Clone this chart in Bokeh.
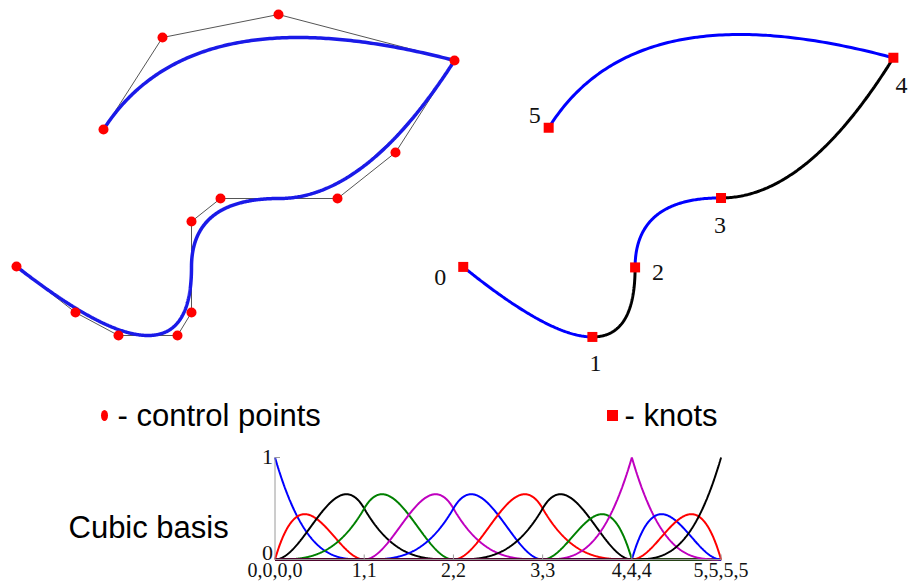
import numpy as np
from bokeh.plotting import figure
from bokeh.models import Range1d
from bokeh.core.properties import value
from bokeh.embed import file_html
from bokeh.resources import INLINE

# ---------------- data ----------------
# control points (x to the right, y upward)
CTRL_X = [16, 75, 118, 177, 191, 191, 220, 337, 395, 454, 278, 162, 103]
CTRL_Y = [84, 38, 15, 15, 38, 129, 152, 152, 198, 290, 336, 313, 221]
# cubic B-spline knot vector
KNOTS = [0, 0, 0, 0, 1, 1, 2, 2, 3, 3, 4, 4, 4, 5, 5, 5, 5]
DEGREE = 3
KNOT_VALUES = [0, 1, 2, 3, 4, 5]
KNOT_NAMES = ["0", "1", "2", "3", "4", "5"]
TICK_LABELS = ["0,0,0,0", "1,1", "2,2", "3,3", "4,4,4", "5,5,5,5"]
BASIS_COLORS = ["#0000ff", "#ff0000", "#000000", "#008000", "#bf00bf"]
SEG_COLORS = ["#0000ff", "#000000"]


def bspline_basis(t, p, u):
    t = np.asarray(t, dtype=float)
    u = np.asarray(u, dtype=float)
    m = len(t) - 1
    N = np.zeros((m, len(u)))
    spans = [i for i in range(m) if t[i] < t[i + 1]]
    for i in spans:
        N[i] = ((u >= t[i]) & (u < t[i + 1])).astype(float)
    N[spans[-1], u >= t[-1]] = 1.0
    for k in range(1, p + 1):
        Nk = np.zeros((m - k, len(u)))
        for i in range(m - k):
            a = np.zeros(len(u))
            b = np.zeros(len(u))
            if t[i + k] != t[i]:
                a = (u - t[i]) / (t[i + k] - t[i]) * N[i]
            if t[i + k + 1] != t[i + 1]:
                b = (t[i + k + 1] - u) / (t[i + k + 1] - t[i + 1]) * N[i + 1]
            Nk[i] = a + b
        N = Nk
    return N


def curve(u):
    B = bspline_basis(KNOTS, DEGREE, u)
    return B.T @ np.array(CTRL_X, float), B.T @ np.array(CTRL_Y, float)


# ---------------- figure ----------------
p = figure(width=908, height=585, x_range=Range1d(0, 908), y_range=Range1d(585, 0),
           min_border=0, toolbar_location=None, output_backend="svg",
           x_axis_type=None, y_axis_type=None)
p.grid.visible = False
p.outline_line_color = None
p.background_fill_color = "white"
p.border_fill_color = "white"

p.extra_x_ranges = {
    "left": Range1d(0, 908),
    "right": Range1d(-455.2, 469.4),
    "basis": Range1d(-3.077, 7.101),
}
p.extra_y_ranges = {
    "left": Range1d(-235, 350),
    "right": Range1d(-229.9, 346.5),
    "basis": Range1d(-0.2549, 5.480),
}

# ---- left: control polygon + curve ----
uu = np.linspace(0, 5, 800)
cx, cy = curve(uu)
p.line(CTRL_X, CTRL_Y, x_range_name="left", y_range_name="left",
       line_color="#555555", line_width=1)
p.line(cx, cy, x_range_name="left", y_range_name="left",
       line_color="#1a1ae8", line_width=3.5)
p.scatter(CTRL_X, CTRL_Y, x_range_name="left", y_range_name="left",
          marker="circle", size=10, fill_color="#ff0000", line_color=None)

# ---- right: curve coloured per knot span, knots ----
for k in range(len(KNOT_VALUES) - 1):
    us = np.linspace(KNOT_VALUES[k], KNOT_VALUES[k + 1], 120)
    sx, sy = curve(us)
    p.line(sx, sy, x_range_name="right", y_range_name="right",
           line_color=SEG_COLORS[k % 2], line_width=3)
kx, ky = curve(np.array(KNOT_VALUES, float))
p.scatter(kx, ky, x_range_name="right", y_range_name="right",
          marker="square", size=10, fill_color="#ff0000", line_color=None)
label_dx = [-23, 3, 23, -1, 8, -14]
label_dy = [11, 27, 5, 28, 28, -12]
for i in range(len(KNOT_NAMES)):
    p.text([kx[i]], [ky[i]], text=[KNOT_NAMES[i]], x_range_name="right", y_range_name="right",
           x_offset=label_dx[i], y_offset=label_dy[i],
           text_align="center", text_baseline="middle",
           text_font=value("Liberation Serif"), text_font_size="24px", text_color="#111111")

# ---- basis functions ----
ub = np.linspace(0, 5, 1001)
B = bspline_basis(KNOTS, DEGREE, ub)
for i in range(B.shape[0]):
    p.line(ub, B[i], x_range_name="basis", y_range_name="basis",
           line_color=BASIS_COLORS[i % len(BASIS_COLORS)], line_width=2)
# axes
p.line([0, 5], [0, 0], x_range_name="basis", y_range_name="basis", line_color="#9a9a9a", line_width=1)
p.line([0, 0], [0, 1], x_range_name="basis", y_range_name="basis", line_color="#9a9a9a", line_width=1)
p.ray(x=KNOT_VALUES[1:], y=[0] * 5, length=5, length_units="screen", angle=np.pi / 2,
      x_range_name="basis", y_range_name="basis", line_color="#9a9a9a", line_width=1)
p.ray(x=[0], y=[1], length=5, length_units="screen", angle=0,
      x_range_name="basis", y_range_name="basis", line_color="#9a9a9a", line_width=1)
p.text(KNOT_VALUES, [0] * 6, text=TICK_LABELS, x_range_name="basis", y_range_name="basis",
       y_offset=4, text_align="center", text_baseline="top",
       text_font=value("Liberation Serif"), text_font_size="20px", text_color="#111111")
p.text([0, 0], [0, 1], text=["0", "1"], x_range_name="basis", y_range_name="basis",
       x_offset=-2, y_offset=[-6, 0], text_align="right", text_baseline="middle",
       text_font=value("Liberation Serif"), text_font_size="22px", text_color="#111111")

# ---- text labels / legend ----
p.text([68], [527], text=["Cubic basis"], text_align="left", text_baseline="middle",
       text_font=value("Liberation Sans"), text_font_size="31px", text_color="black")
p.ellipse(x=[104], y=[415], width=7, height=11, width_units="screen", height_units="screen",
          fill_color="#ff0000", line_color=None)
p.text([117], [415], text=["- control points"], text_align="left", text_baseline="middle",
       text_font=value("Liberation Sans"), text_font_size="31px", text_color="black")
p.scatter([612], [415], marker="square", size=11, fill_color="#ff0000", line_color=None)
p.text([624], [415], text=["- knots"], text_align="left", text_baseline="middle",
       text_font=value("Liberation Sans"), text_font_size="31px", text_color="black")

open("out.html", "w").write(file_html(p, INLINE))
